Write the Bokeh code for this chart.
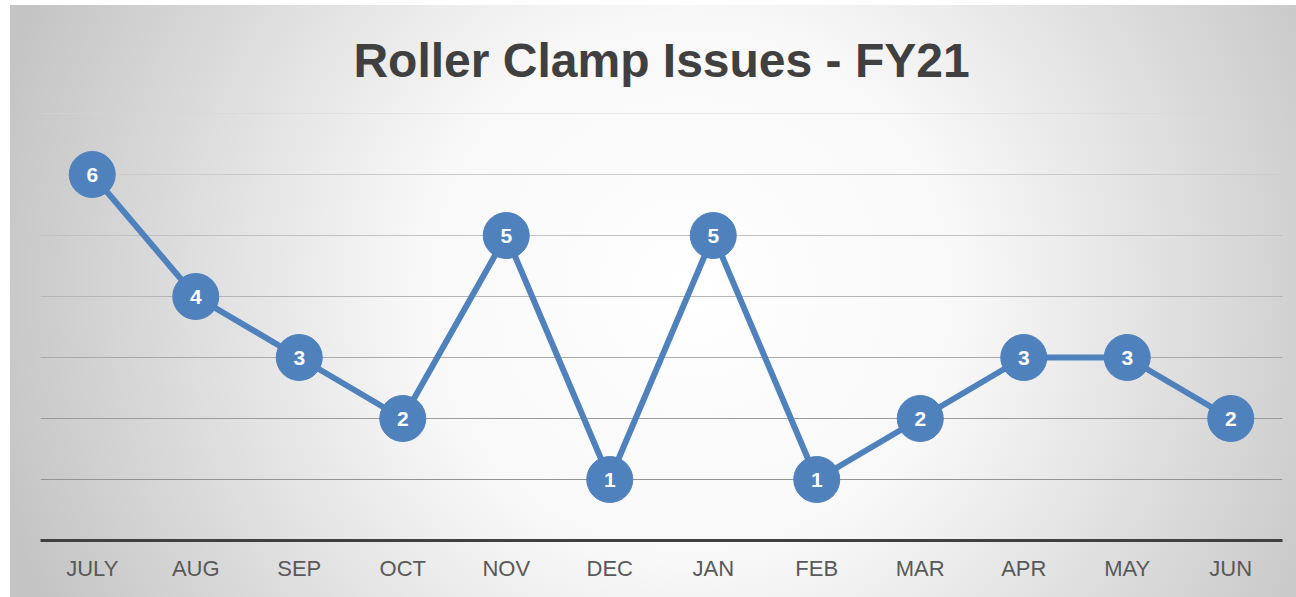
from bokeh.plotting import figure
from bokeh.models import Range1d, FactorRange, Span, ColumnDataSource
from bokeh.core.properties import value
from bokeh.embed import file_html
from bokeh.resources import INLINE

months = ["JULY", "AUG", "SEP", "OCT", "NOV", "DEC", "JAN", "FEB", "MAR", "APR", "MAY", "JUN"]
issues = [6, 4, 3, 2, 5, 1, 5, 1, 2, 3, 3, 2]
grid_ticks = [1, 2, 3, 4, 5, 6, 7]
grid_colors = ["#939393", "#9c9c9c", "#aaaaaa", "#b6b6b6", "#c2c2c2", "#cccccc", "#d6d6d6"]
title_text = "Roller Clamp Issues - FY21"

FONT = "Liberation Sans"
BLUE = "#4f81bd"

src = ColumnDataSource(dict(m=months, v=issues, t=[str(v) for v in issues]))

p = figure(width=1296, height=597, output_backend="svg", toolbar_location=None,
           x_range=FactorRange(factors=months, range_padding=0),
           y_range=Range1d(0, 7), y_axis_location=None,
           min_border_left=40, min_border_right=14, min_border_top=113, min_border_bottom=57)

p.styles = {"background": "radial-gradient(circle 720px at 680px 285px, #ffffff 0%, #f8f8f8 38%, #c4c4c4 100%) 10px 5px / calc(100% - 10px) calc(100% - 5px) no-repeat, #ffffff"}
p.background_fill_alpha = 0
p.border_fill_alpha = 0
p.outline_line_color = None
p.xgrid.visible = False
p.ygrid.visible = False

p.title.text = title_text
p.title.text_font = FONT
p.title.text_font_size = "48px"
p.title.text_font_style = "bold"
p.title.text_color = "#404040"
p.title.align = "center"
p.title.standoff = 54

for t, c in zip(grid_ticks, grid_colors):
    p.add_layout(Span(location=t, dimension="width", line_color=c, line_width=1.2, level="underlay"))

p.line("m", "v", source=src, line_color=BLUE, line_width=6)
p.scatter("m", "v", source=src, size=46, fill_color=BLUE, line_color=BLUE)
p.text("m", "v", text="t", source=src, text_color="white", text_font=value(FONT),
       text_font_size="21px", text_font_style="bold", text_align="center", text_baseline="middle")

ax = p.xaxis[0]
ax.axis_line_color = "#404040"
ax.axis_line_width = 3
ax.major_tick_line_color = None
ax.minor_tick_line_color = None
ax.major_label_text_font = FONT
ax.major_label_text_font_size = "22px"
ax.major_label_text_color = "#595959"
ax.major_label_standoff = 9

open("out.html", "w").write(file_html(p, INLINE))
